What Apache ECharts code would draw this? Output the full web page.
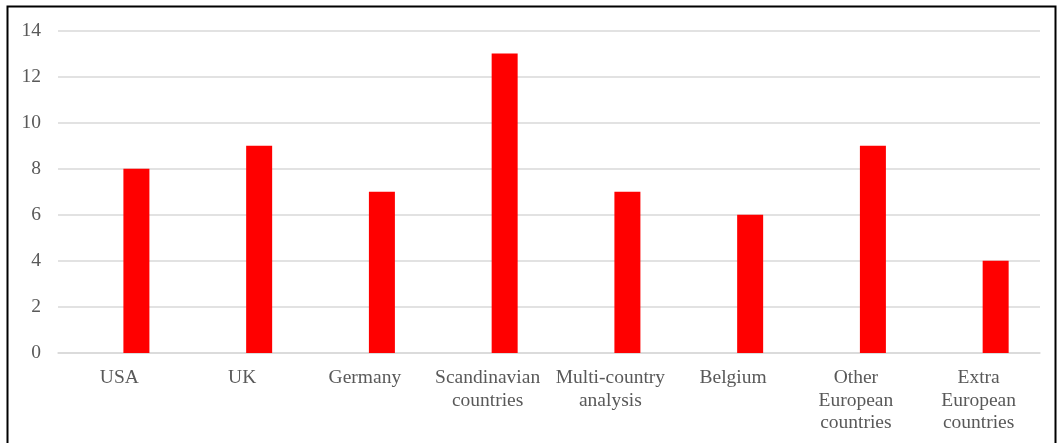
<!DOCTYPE html>
<html><head><meta charset="utf-8">
<script src="https://cdn.jsdelivr.net/npm/echarts@6/dist/echarts.min.js"></script>
<style>html,body{margin:0;padding:0;background:#fff}#c{width:1057px;height:443px}</style>
</head><body><div id="c"></div>
<script>
const categories = ["USA", "UK", "Germany", "Scandinavian\ncountries", "Multi-country\nanalysis", "Belgium", "Other\nEuropean\ncountries", "Extra\nEuropean\ncountries"];
const values = [8, 9, 7, 13, 7, 6, 9, 4];
const yTicks = { min: 0, max: 14, interval: 2 };

const font = "'Liberation Serif', 'Times New Roman', serif";
const chart = echarts.init(document.getElementById('c'));
chart.setOption({
  animation: false,
  grid: { left: 58, right: 17, top: 30.5, bottom: 90 },
  graphic: [{ type: 'rect', shape: { x: 7.5, y: 6.5, width: 1048, height: 460 }, style: { fill: 'none', stroke: '#000', lineWidth: 2 } }],
  xAxis: {
    type: 'category', data: categories,
    axisLine: { lineStyle: { color: '#d9d9d9', width: 1.5 } },
    axisTick: { show: false },
    axisLabel: { color: '#595959', fontFamily: font, fontSize: 19.5, lineHeight: 22.5, margin: 14, interval: 0 }
  },
  yAxis: {
    type: 'value', min: yTicks.min, max: yTicks.max, interval: yTicks.interval,
    axisLine: { show: false }, axisTick: { show: false },
    splitLine: { lineStyle: { color: '#d9d9d9', width: 1.5 } },
    axisLabel: { color: '#595959', fontFamily: font, fontSize: 19.5, margin: 17 }
  },
  series: [
    { type: 'bar', data: categories.map(() => '-'), barWidth: 26, barGap: '31%' },
    { type: 'bar', data: values, barWidth: 26, itemStyle: { color: '#ff0000' } }
  ]
});
</script></body></html>
